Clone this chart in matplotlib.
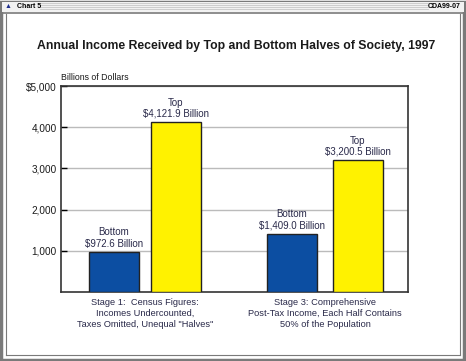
import matplotlib
matplotlib.use("Agg")
import matplotlib.pyplot as plt
from matplotlib.patches import Rectangle

categories = ["Stage 1:  Census Figures:\nIncomes Undercounted,\nTaxes Omitted, Unequal \"Halves\"",
              "Stage 3: Comprehensive\nPost-Tax Income, Each Half Contains\n50% of the Population"]
bottom_vals = [972.6, 1409.0]
top_vals = [4121.9, 3200.5]
bottom_labels = ["Bottom\n$972.6 Billion", "Bottom\n$1,409.0 Billion"]
top_labels = ["Top\n$4,121.9 Billion", "Top\n$3,200.5 Billion"]
yticks = [1000, 2000, 3000, 4000, 5000]
ytick_labels = ["1,000", "2,000", "3,000", "4,000", "$5,000"]

W, H = 466, 361
fig = plt.figure(figsize=(W/100, H/100), dpi=100)
fig.patch.set_facecolor("white")
plt.rcParams['font.family'] = ['Liberation Sans', 'DejaVu Sans']

def px(x, y, w, h):
    return (x/W, 1 - (y+h)/H, w/W, h/H)

# outer frame
fig.add_artist(Rectangle((1/W, 1/H), (W-3)/W, (H-3)/H, transform=fig.transFigure,
                         fill=False, edgecolor="#7a7a7a", lw=2.5))
# title bar
x0, y0, w0, h0 = px(2, 2, W-4, 10)
fig.add_artist(Rectangle((x0, y0), w0, h0, transform=fig.transFigure,
                         facecolor="#f2f2f2", edgecolor="none"))
for yy in range(3, 11, 2):
    fig.add_artist(plt.Line2D([40/W, 428/W], [1 - yy/H]*2, transform=fig.transFigure,
                              color="#c8c8c8", lw=0.6))
fig.add_artist(plt.Line2D([2/W, (W-2)/W], [1 - 13/H]*2, transform=fig.transFigure,
                          color="#7a7a7a", lw=1.2))
fig.text(17/W, 1 - 7/H, "Chart 5", fontsize=5, va="center", ha="left", weight="bold")
fig.text(461/W, 1 - 7/H, "CDA99-07", fontsize=5, va="center", ha="right", weight="bold")
fig.text(8/W, 1 - 7/H, "\u25b2", fontsize=5, va="center", ha="center", color="#1f2f8f")
# inner borders
fig.add_artist(plt.Line2D([(W-6)/W]*2, [6/H, 1 - 14/H], transform=fig.transFigure,
                          color="#7a7a7a", lw=0.8))
fig.add_artist(plt.Line2D([6/W]*2, [6/H, 1 - 14/H], transform=fig.transFigure,
                          color="#7a7a7a", lw=0.8))
fig.add_artist(plt.Line2D([6/W, (W-6)/W], [6/H]*2, transform=fig.transFigure,
                          color="#7a7a7a", lw=0.8))

fig.text(236/W, 1 - 46/H, "Annual Income Received by Top and Bottom Halves of Society, 1997",
         fontsize=8.8, weight="bold", ha="center", va="center", color="#1a1a1a")

ax = fig.add_axes(px(61, 86, 347, 206))
ax.set_xlim(0, 347)
ax.set_ylim(0, 5000)

bar_w = 50
bx = [53, 231]
tx = [115, 297]
label_x = [84, 264]
ax.bar(bx, bottom_vals, width=bar_w, color="#0c4ea2", edgecolor="#222222", lw=1.0, zorder=3)
ax.bar(tx, top_vals, width=bar_w, color="#fff200", edgecolor="#222222", lw=1.0, zorder=3)

txtc = "#2a2a4a"
for x, v, l in zip(bx, bottom_vals, bottom_labels):
    ax.text(x, v + 80, l, ha="center", va="bottom", fontsize=7.0, color=txtc, linespacing=1.15)
for x, v, l in zip(tx, top_vals, top_labels):
    ax.text(x, v + 80, l, ha="center", va="bottom", fontsize=7.0, color=txtc, linespacing=1.15)

ax.set_yticks(yticks)
ax.set_yticklabels(ytick_labels, fontsize=7.2, color="#1a1a1a")
ax.yaxis.grid(True, color="#bbbbbb", lw=1.0, zorder=0)
ax.set_xticks(label_x)
ax.set_xticklabels(categories, fontsize=6.7, color=txtc, linespacing=1.35)
ax.tick_params(axis="x", length=0, pad=4)
ax.tick_params(axis="y", length=4, width=1, direction="in", pad=3)
for s in ax.spines.values():
    s.set_color("#333333")
    s.set_linewidth(1.2)
ax.text(0.0, 1.02, "Billions of Dollars", transform=ax.transAxes, fontsize=6.3,
        ha="left", va="bottom", color="#1a1a1a")

fig.savefig("out.png", dpi=100, facecolor="white")
